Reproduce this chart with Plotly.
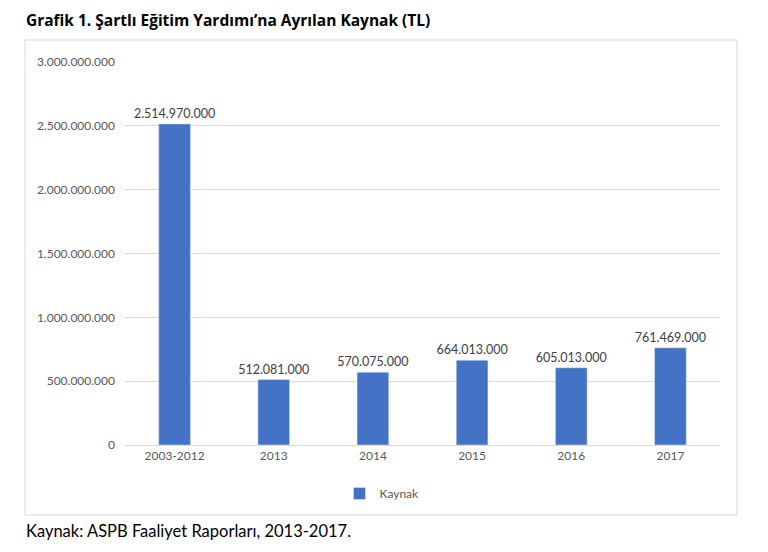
import plotly.graph_objects as go

categories = ["2003-2012", "2013", "2014", "2015", "2016", "2017"]
kaynak = [2514970000, 512081000, 570075000, 664013000, 605013000, 761469000]
tick_vals = [0, 500000000, 1000000000, 1500000000, 2000000000, 2500000000, 3000000000]

# page has an 8px body margin, so the figure starts at (8, 8) on screen
OFF = 8
W, H = 760, 544
L, R, T, B = 125 - OFF, 48, 62 - OFF, 107
pw = W - L - R
ph = H - T - B


def px_x(x):
    return (x - OFF - L) / pw


def px_y(y):
    return (H - B - (y - OFF)) / ph


fig = go.Figure()
fig.add_trace(
    go.Bar(
        x=categories,
        y=kaynak,
        name="Kaynak",
        marker_color="#4472C4",
        texttemplate="%{y:,d}",
        textposition="outside",
        constraintext="none",
        textfont=dict(size=12.5, color="#404040"),
        cliponaxis=False,
    )
)

fig.update_layout(
    width=W,
    height=H,
    separators=",.",
    plot_bgcolor="white",
    paper_bgcolor="white",
    font=dict(family="Lato, Open Sans, sans-serif", color="#595959", size=12),
    margin=dict(l=L, r=R, t=T, b=B),
    bargap=0.68,
    showlegend=True,
    legend=dict(
        orientation="h",
        x=px_x(382),
        y=px_y(479),
        xanchor="center",
        yanchor="top",
        font=dict(size=12, color="#595959"),
        itemwidth=30,
    ),
    shapes=[
        dict(
            type="rect",
            xref="paper",
            yref="paper",
            x0=px_x(25),
            x1=px_x(737),
            y0=px_y(515),
            y1=px_y(40),
            line=dict(color="#D9D9D9", width=1),
        )
    ],
    annotations=[
        dict(
            text="<b>Grafik 1. Şartlı Eğitim Yardımı’na Ayrılan Kaynak (TL)</b>",
            xref="paper",
            yref="paper",
            x=px_x(24),
            y=px_y(20),
            xanchor="left",
            yanchor="middle",
            showarrow=False,
            font=dict(family="Open Sans, sans-serif", size=15.5, color="#000000"),
        ),
        dict(
            text="Kaynak: ASPB Faaliyet Raporları, 2013-2017.",
            xref="paper",
            yref="paper",
            x=px_x(24),
            y=px_y(531),
            xanchor="left",
            yanchor="middle",
            showarrow=False,
            font=dict(size=16.5, color="#000000"),
        ),
    ],
)

fig.update_xaxes(
    showgrid=False,
    showline=True,
    linecolor="#D9D9D9",
    ticks="",
    tickfont=dict(size=12, color="#595959"),
)
fig.update_yaxes(
    range=[0, 3000000000],
    tickvals=tick_vals,
    tickformat=",d",
    showgrid=True,
    gridcolor="#D9D9D9",
    zeroline=False,
    showline=False,
    ticks="",
    ticklen=0,
    ticklabelstandoff=9,
    tickfont=dict(size=12, color="#595959"),
)

fig.write_html("out.html")
